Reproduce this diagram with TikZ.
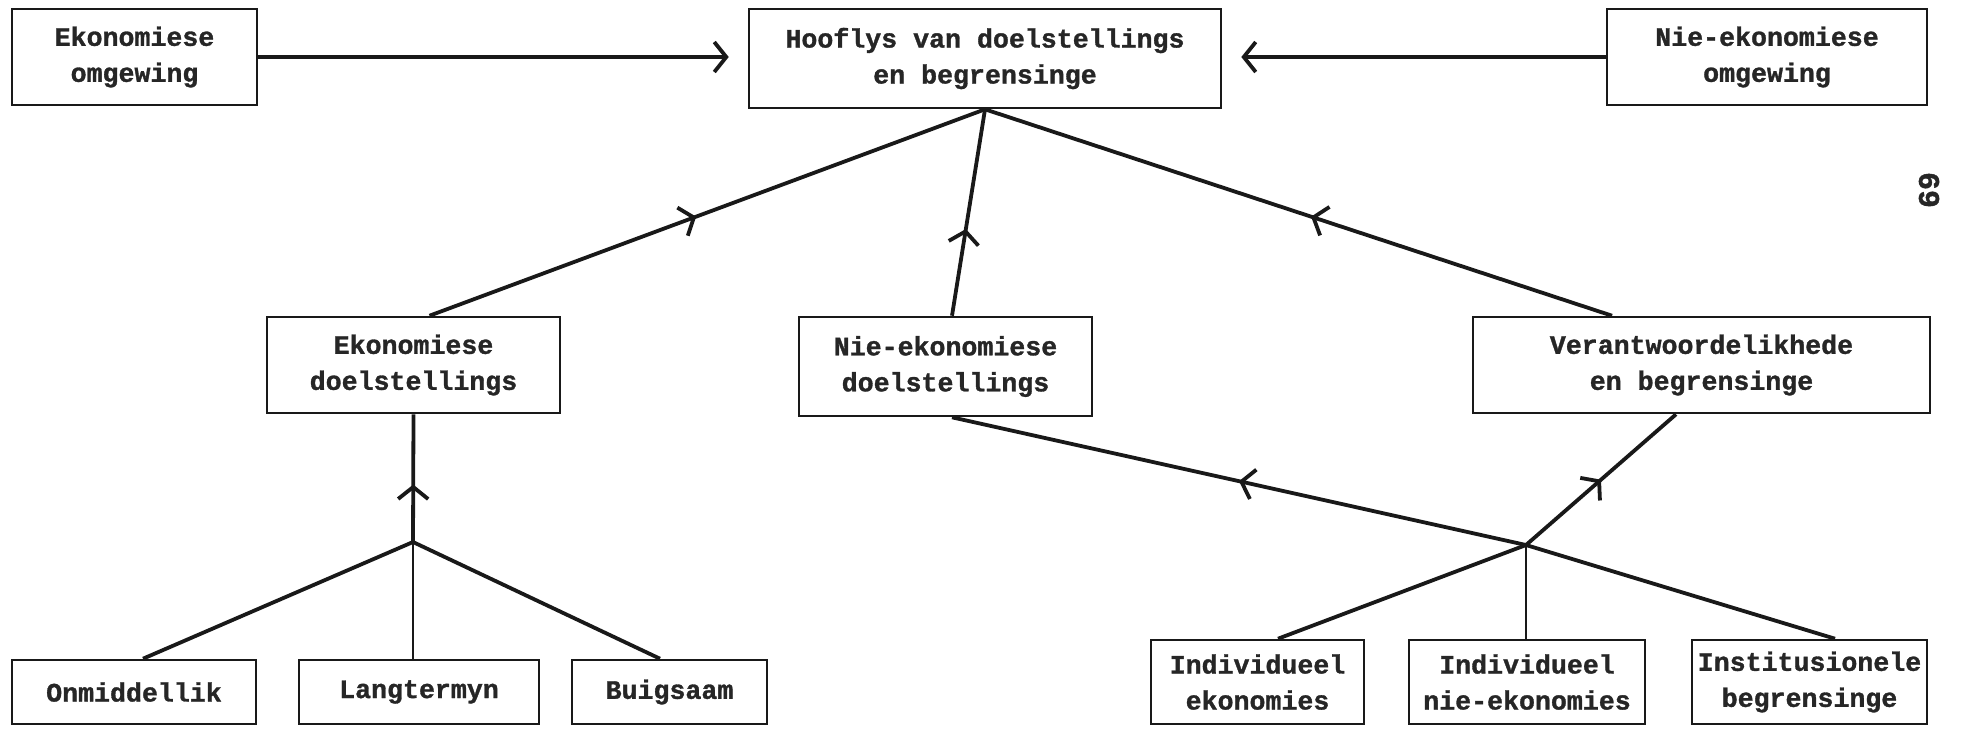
\documentclass[tikz,border=0pt]{standalone}
\usepackage{fontspec}
\setmonofont[BoldFeatures={FakeBold=1.2}]{Liberation Mono}
\usetikzlibrary{arrows.meta,decorations.markings,calc}

\begin{document}
\begin{tikzpicture}[x=0.5pt,y=-0.5pt,
    every node/.style={font=\ttfamily\bfseries\fontsize{13.3pt}{18pt}\selectfont, text=black!85},
    box/.style={draw=black!90, line width=1.3pt, inner sep=0pt, align=center},
    wire/.style={draw=black!90, line width=1.9pt},
    barb/.style={-{Straight Barb[length=6pt,width=15pt]}},
    midarrow/.style={postaction={decorate},
      decoration={markings, mark=at position #1 with {\arrow{Straight Barb[length=6pt,width=15pt]}}}}
  ]
  \useasboundingbox (0,0) rectangle (1964,736);

  % top row
  \node[box, minimum width=122.5pt, minimum height=48pt] (eo)   at (134.5,57)  {Ekonomiese\\omgewing};
  \node[box, minimum width=236pt,   minimum height=49.5pt] (hoof) at (985,58.5) {Hooflys van doelstellings\\en begrensinge};
  \node[box, minimum width=160pt,   minimum height=48pt] (neo)  at (1767,57)   {Nie-ekonomiese\\omgewing};

  % middle row
  \node[box, minimum width=146.5pt, minimum height=48pt]   (ed)  at (413.5,365)  {Ekonomiese\\doelstellings};
  \node[box, minimum width=146.5pt, minimum height=49.5pt] (ned) at (945.5,366.5) {Nie-ekonomiese\\doelstellings};
  \node[box, minimum width=228.5pt, minimum height=48pt]   (ver) at (1701.5,365) {Verantwoordelikhede\\en begrensinge};

  % bottom row
  \node[box, minimum width=122pt,   minimum height=32pt] (onm)  at (134,692)   {Onmiddellik};
  \node[box, minimum width=120pt,   minimum height=32pt] (lang) at (419,692)   {Langtermyn};
  \node[box, minimum width=97.5pt,  minimum height=32pt] (buig) at (669.5,692) {Buigsaam};
  \node[box, minimum width=106.5pt, minimum height=42pt] (ie)   at (1257.5,682) {Individueel\\ekonomies};
  \node[box, minimum width=118pt,   minimum height=42pt] (ine)  at (1527,682)   {Individueel\\nie-ekonomies};
  \node[box, minimum width=117.5pt, minimum height=42pt] (inst) at (1809.5,682) {Institusionele\\begrensinge};

  % page number
  \node[rotate=-90, font=\ttfamily\bfseries\fontsize{15pt}{17pt}\selectfont] (pg) at (1929,190) {69};

  % junction points
  \coordinate (top) at (hoof.south);
  \coordinate (jl) at (413,542);
  \coordinate (jr) at (1526,545);

  % environment inputs
  \draw[wire, barb, shorten >=9.5pt] (eo.east) -- (eo.east -| hoof.west);
  \draw[wire, barb, shorten >=9.5pt] (neo.west) -- (neo.west -| hoof.east);

  % goals into the main line
  \draw[wire, midarrow=0.48] ($(ed.north)+(16,0)$) -- (top);
  \draw[wire, midarrow=0.42] ($(ned.north)+(6.5,0)$) -- (top);
  \draw[wire, midarrow=0.48] ($(ver.north)+(-89.5,0)$) -- (top);

  % economic goals fan
  \draw[wire, midarrow=0.45] (jl) -- (ed.south);
  \draw[wire] (jl) -- ($(onm.north)+(9,0)$);
  \draw[wire, line width=1.4pt] (jl) -- (jl |- lang.north);
  \draw[wire] (jl) -- ($(buig.north)+(-9.5,0)$);

  % individual / institutional fan
  \draw[wire, midarrow=0.5] (jr) -- ($(ned.south)+(6.5,0)$);
  \draw[wire, midarrow=0.5] (jr) -- ($(ver.south)+(-25.5,0)$);
  \draw[wire] (jr) -- ($(ie.north)+(20.5,0)$);
  \draw[wire, line width=1.4pt] (jr) -- (jr |- ine.north);
  \draw[wire] (jr) -- ($(inst.north)+(25.5,0)$);
\end{tikzpicture}
\end{document}
